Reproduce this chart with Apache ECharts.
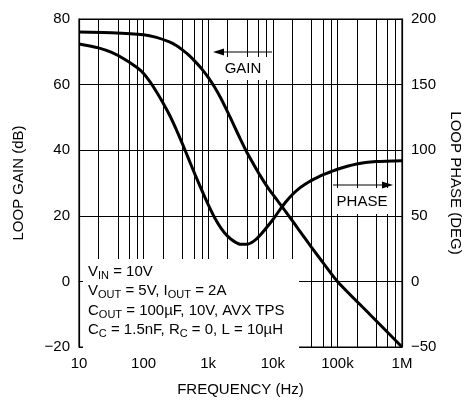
<!DOCTYPE html>
<html>
<head>
<meta charset="utf-8">
<script src="https://cdn.jsdelivr.net/npm/echarts@6/dist/echarts.min.js"></script>
<style>
  html, body { margin: 0; padding: 0; background: #fff; }
  #chart { width: 471px; height: 402px; }
</style>
</head>
<body>
<div id="chart"></div>
<script>
// Loop gain (dB) versus frequency (Hz)
const gainFreq = [10, 32, 100, 158, 251, 316, 398, 501, 631, 794, 1000, 1259, 1585, 1995, 2512, 3162, 3981, 5012, 6310, 7943, 10000, 15849, 25119, 39811, 63096, 100000, 316228, 1000000];
const gainDb   = [76, 75.8, 75.2, 74.4, 73, 72, 70.6, 69, 67, 64.8, 62.2, 59.2, 55.7, 51.7, 47.5, 43.3, 39.3, 35.8, 32.4, 29.3, 26.5, 21.3, 15.8, 10.4, 5.1, 0, -10, -20];

// Loop phase (degrees) versus frequency (Hz)
const phaseFreq = [10, 20, 32, 50, 79, 100, 126, 158, 200, 251, 316, 398, 501, 631, 794, 1000, 1259, 1585, 1995, 2512, 3162, 3981, 5012, 6310, 10000, 12589, 15849, 19953, 25119, 31623, 39811, 50119, 63096, 100000, 199526, 398107, 1000000];
const phaseDeg  = [181, 178, 174.5, 169.5, 163, 158.5, 152, 144.5, 136, 127, 116.5, 105, 93, 81, 69.5, 58.5, 48.5, 40.5, 34.5, 30.5, 28.3, 28.3, 30.5, 35, 47, 54, 60.5, 66, 70.5, 74, 77, 79.5, 81.7, 85.5, 89.5, 91.3, 92];

// Frequency tick labels (one per decade)
const decadeValues = [10, 100, 1000, 10000, 100000, 1000000];
const decadeLabels = ['10', '100', '1k', '10k', '100k', '1M'];

// Intermediate gridline multipliers inside each decade
const minorMultipliers = [2, 4, 6, 8];

const FONT = 'Liberation Sans, Arial, sans-serif';
const minus = v => String(v).replace('-', '\u2212');

const minorLines = [];
decadeValues.slice(0, -1).forEach(d => minorMultipliers.forEach(m => minorLines.push({ xAxis: d * m })));

const chart = echarts.init(document.getElementById('chart'), null, { renderer: 'canvas' });

const txt = { fontFamily: FONT, fontSize: 15, fill: '#000' };
const rich = {
  a: { fontFamily: FONT, fontSize: 15, color: '#000' },
  s: { fontFamily: FONT, fontSize: 11, color: '#000', padding: [8, 0, 0, 0] }
};
function noteLine(x, y, text) {
  return { type: 'text', x: x, y: y, z: 12, style: { text: text, rich: rich, verticalAlign: 'middle', fontFamily: FONT, fontSize: 15 } };
}

chart.setOption({
  animation: false,
  backgroundColor: '#fff',
  grid: { left: 79, right: 58, top: 19, bottom: 49, show: true, borderColor: '#000', borderWidth: 1.2, backgroundColor: 'transparent' },
  xAxis: {
    type: 'log', logBase: 10, min: 10, max: 1000000,
    name: 'FREQUENCY (Hz)', nameLocation: 'middle', nameGap: 35,
    nameTextStyle: { fontFamily: FONT, fontSize: 15, color: '#000' },
    axisLine: { lineStyle: { color: '#000', width: 1.2 } },
    axisTick: { show: false },
    axisLabel: {
      margin: 9, fontFamily: FONT, fontSize: 15, color: '#000',
      formatter: v => { const i = decadeValues.findIndex(d => Math.abs(d - v) / d < 1e-6); return i >= 0 ? decadeLabels[i] : ''; }
    },
    splitLine: { show: true, lineStyle: { color: '#000', width: 1 } }
  },
  yAxis: [
    {
      type: 'value', min: -20, max: 80, interval: 20, position: 'left',
      name: 'LOOP GAIN (dB)', nameLocation: 'middle', nameGap: 53, nameRotate: 90,
      nameTextStyle: { fontFamily: FONT, fontSize: 15, color: '#000' },
      axisLine: { show: true, lineStyle: { color: '#000', width: 1.2 } },
      axisTick: { show: false },
      axisLabel: { margin: 9, fontFamily: FONT, fontSize: 15, color: '#000', formatter: minus },
      splitLine: { show: true, lineStyle: { color: '#000', width: 1 } }
    },
    {
      type: 'value', min: -50, max: 200, interval: 50, position: 'right',
      name: 'LOOP PHASE (DEG)', nameLocation: 'middle', nameGap: 46, nameRotate: -90,
      nameTextStyle: { fontFamily: FONT, fontSize: 15, color: '#000' },
      axisLine: { show: true, lineStyle: { color: '#000', width: 1.2 } },
      axisTick: { show: false },
      axisLabel: { margin: 9, fontFamily: FONT, fontSize: 15, color: '#000', formatter: minus },
      splitLine: { show: false }
    }
  ],
  series: [
    {
      name: 'Gain', type: 'line', yAxisIndex: 0, z: 20,
      data: gainFreq.map((f, i) => [f, gainDb[i]]),
      smooth: 0.25, symbol: 'none',
      lineStyle: { color: '#000', width: 3 },
      markLine: {
        z: 1, silent: true, symbol: 'none', animation: false,
        label: { show: false },
        lineStyle: { color: '#000', width: 1, type: 'solid' },
        emphasis: { disabled: true },
        data: minorLines
      }
    },
    {
      name: 'Phase', type: 'line', yAxisIndex: 1, z: 20,
      data: phaseFreq.map((f, i) => [f, phaseDeg[i]]),
      smooth: 0.25, symbol: 'none',
      lineStyle: { color: '#000', width: 3 }
    }
  ],
  graphic: [
    // GAIN callout
    { type: 'rect', z: 10, shape: { x: 215, y: 57, width: 55, height: 23 }, style: { fill: '#fff' } },
    { type: 'text', z: 12, x: 243, y: 69, style: Object.assign({ text: 'GAIN', align: 'center', verticalAlign: 'middle' }, txt) },
    { type: 'line', z: 12, shape: { x1: 272, y1: 52, x2: 222, y2: 52 }, style: { stroke: '#000', lineWidth: 1 } },
    { type: 'polygon', z: 12, shape: { points: [[213, 52], [224, 48.5], [224, 55.5]] }, style: { fill: '#000' } },
    // PHASE callout
    { type: 'rect', z: 10, shape: { x: 335, y: 188, width: 58, height: 26 }, style: { fill: '#fff' } },
    { type: 'text', z: 12, x: 362, y: 202, style: Object.assign({ text: 'PHASE', align: 'center', verticalAlign: 'middle' }, txt) },
    { type: 'line', z: 12, shape: { x1: 333, y1: 185, x2: 384, y2: 185 }, style: { stroke: '#000', lineWidth: 1 } },
    { type: 'polygon', z: 12, shape: { points: [[393, 185], [382, 181.5], [382, 188.5]] }, style: { fill: '#000' } },
    // Operating conditions
    { type: 'rect', z: 10, shape: { x: 83, y: 259, width: 216, height: 90 }, style: { fill: '#fff' } },
    noteLine(88, 272, '{a|V}{s|IN}{a| = 10V}'),
    noteLine(88, 291, '{a|V}{s|OUT}{a| = 5V, I}{s|OUT}{a| = 2A}'),
    noteLine(88, 310.5, '{a|C}{s|OUT}{a| = 100\u00B5F, 10V, AVX TPS}'),
    noteLine(88, 329.5, '{a|C}{s|C}{a| = 1.5nF, R}{s|C}{a| = 0, L = 10\u00B5H}')
  ]
});
</script>
</body>
</html>
